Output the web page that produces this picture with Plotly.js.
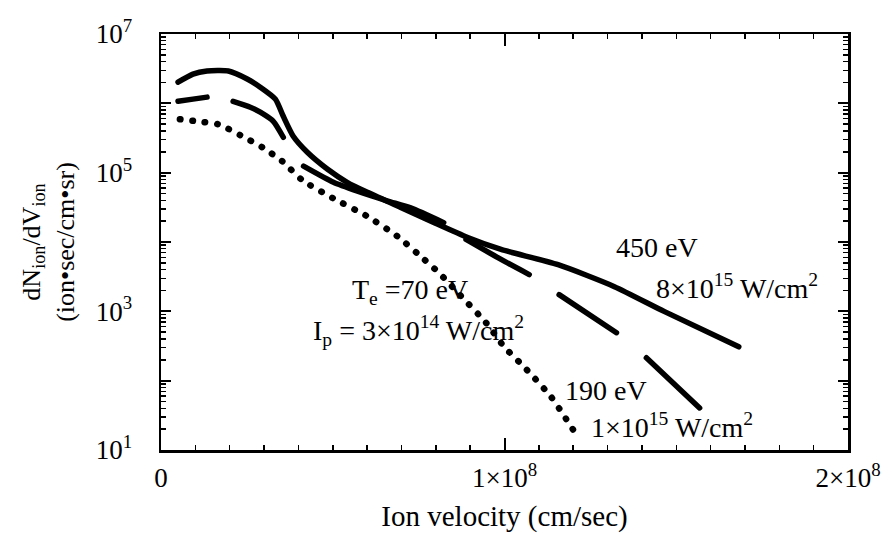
<!DOCTYPE html>
<html>
<head>
<meta charset="utf-8">
<script src="https://cdn.plot.ly/plotly-3.0.1.min.js"></script>
<style>
html,body{margin:0;padding:0;background:#fff;}
#chart{width:892px;height:533px;}
#chart path.js-line{stroke-linecap:round;stroke-linejoin:round;}
</style>
</head>
<body>
<div id="chart"></div>
<script>
// ---- data ----
// 450 eV, 8x10^15 W/cm^2 (solid)
var v450 = [4.96e6, 9.3e6, 1.34e7, 1.96e7, 2.51e7, 2.89e7, 3.33e7, 3.56e7, 3.85e7, 4.26e7, 4.85e7, 5.43e7, 6.01e7, 6.98e7, 7.94e7, 8.93e7, 9.9e7, 1.156e8, 1.32e8, 1.466e8, 1.682e8];
var n450 = [2.02e6, 2.64e6, 2.92e6, 2.92e6, 2.24e6, 1.71e6, 1.15e6, 6.5e5, 3.35e5, 1.97e5, 1.12e5, 7.2e4, 5.2e4, 3.15e4, 1.91e4, 1.16e4, 7.8e3, 4.7e3, 2.27e3, 990, 308];

// 190 eV, 1x10^15 W/cm^2 (long dashes; null = gap between dashes)
var v190 = [4.96e6, 9.3e6, 1.34e7, null, 2.1e7, 2.6e7, 2.89e7, 3.27e7, 3.56e7, null, 4.15e7, 5.02e7, 5.72e7, 6.6e7, 7.27e7, 8.23e7, null, 8.88e7, 9.9e7, 1.072e8, null, 1.159e8, 1.326e8, null, 1.413e8, 1.568e8];
var n190 = [1.07e6, 1.15e6, 1.23e6, null, 1.07e6, 8.8e5, 7.45e5, 5.5e5, 3.24e5, null, 1.24e5, 7.25e4, 5.4e4, 3.9e4, 3.1e4, 1.9e4, null, 1.09e4, 5.6e3, 3.39e3, null, 1.74e3, 492, null, 214, 40.5];

// 70 eV, 3x10^14 W/cm^2 (dotted)
var v70 = [5.5e6, 1.05e7, 1.66e7, 2.31e7, 2.95e7, 3.53e7, 4.12e7, 5.02e7, 6.01e7, 6.89e7, 7.5e7, 8.09e7, 8.64e7, 9.46e7, 9.99e7, 1.057e8, 1.136e8, 1.2e8];
var n70 = [5.9e5, 5.5e5, 5.0e5, 3.47e5, 2.32e5, 1.46e5, 7.75e4, 4.25e4, 2.34e4, 1.2e4, 6.6e3, 3.6e3, 1.86e3, 686, 308, 158, 58, 19.5];

// tick labels
var xTickVals = [0, 1e8, 2e8];
var xTickText = ["0", "1×10<sup>8</sup>", "2×10<sup>8</sup>"];
var yTickVals = [1e1, 1e2, 1e3, 1e4, 1e5, 1e6, 1e7];
var yTickText = ["10<sup>1</sup>", "", "10<sup>3</sup>", "", "10<sup>5</sup>", "", "10<sup>7</sup>"];

// annotation texts
var labels = [
  "450 eV",
  "8×10<sup>15</sup> W/cm<sup>2</sup>",
  "T<sub>e</sub> =70 eV",
  "I<sub>p</sub> = 3×10<sup>14</sup> W/cm<sup>2</sup>",
  "190 eV",
  "1×10<sup>15</sup> W/cm<sup>2</sup>"
];

// ---- layout helpers ----
var L = 161, R = 848, T = 34, B = 450, W = 892, H = 533;
function px(x) { return (x - L) / (R - L); }
function py(y) { return (B - y) / (B - T); }

var FONT = "Liberation Serif, Times New Roman, serif";

// minor tick positions (2..9 in each decade)
var yMinor = [];
for (var d = 1; d < 7; d++) for (var k = 2; k <= 9; k++) yMinor.push(k * Math.pow(10, d));

var lineW = 5.5;
var traces = [
  {x: v450, y: n450, mode: 'lines', line: {color: '#000', width: lineW, shape: 'spline', smoothing: 0.6}, name: '450 eV'},
  {x: v190, y: n190, mode: 'lines', connectgaps: false, line: {color: '#000', width: lineW, shape: 'spline', smoothing: 0.6}, name: '190 eV'},
  {x: v70, y: n70, mode: 'lines', line: {color: '#000', width: 6.5, dash: '0.5px,12px', shape: 'spline', smoothing: 0.6}, name: '70 eV'}
];

var annPos = [[657, 248], [737, 286], [410, 291], [418, 330], [606, 390], [672, 425]];
var annotations = labels.map(function (t, i) {
  return {text: t, xref: 'paper', yref: 'paper', x: px(annPos[i][0]), y: py(annPos[i][1]),
          xanchor: 'center', yanchor: 'middle', showarrow: false,
          font: {family: FONT, size: 28, color: '#000'}};
});

var axisCommon = {
  showline: true, linecolor: '#000', linewidth: 2.5, mirror: 'allticks',
  ticks: 'inside', tickcolor: '#000', tickwidth: 2, showgrid: false, zeroline: false,
  tickfont: {family: FONT, size: 27, color: '#000'}, tickmode: 'array'
};

var layout = {
  width: W, height: H,
  margin: {l: L, r: W - R, t: T, b: H - B},
  paper_bgcolor: '#fff', plot_bgcolor: '#fff',
  showlegend: false,
  xaxis: Object.assign({}, axisCommon, {
    range: [0, 2e8], tickvals: xTickVals, ticktext: xTickText, ticklen: 12,
    ticklabelstandoff: 2,
    minor: {tickmode: 'linear', tick0: 0, dtick: 1e7, ticks: 'inside', ticklen: 5, tickcolor: '#000', tickwidth: 1.5},
    title: {text: 'Ion velocity (cm/sec)', font: {family: FONT, size: 29, color: '#000'}, standoff: 14}
  }),
  yaxis: Object.assign({}, axisCommon, {
    type: 'log', range: [1, 7], tickvals: yTickVals, ticktext: yTickText, ticklen: 10,
    ticklabelstandoff: 21,
    minor: {tickmode: 'array', tickvals: yMinor, ticks: 'inside', ticklen: 5, tickcolor: '#000', tickwidth: 1.5},
    title: {text: 'dN<sub>ion</sub>/dV<sub>ion</sub><br>(ion•sec/cm•sr)', font: {family: FONT, size: 26, color: '#000'}, standoff: 14}
  }),
  annotations: annotations
};

Plotly.newPlot('chart', traces, layout, {displayModeBar: false, staticPlot: true});
</script>
</body>
</html>
